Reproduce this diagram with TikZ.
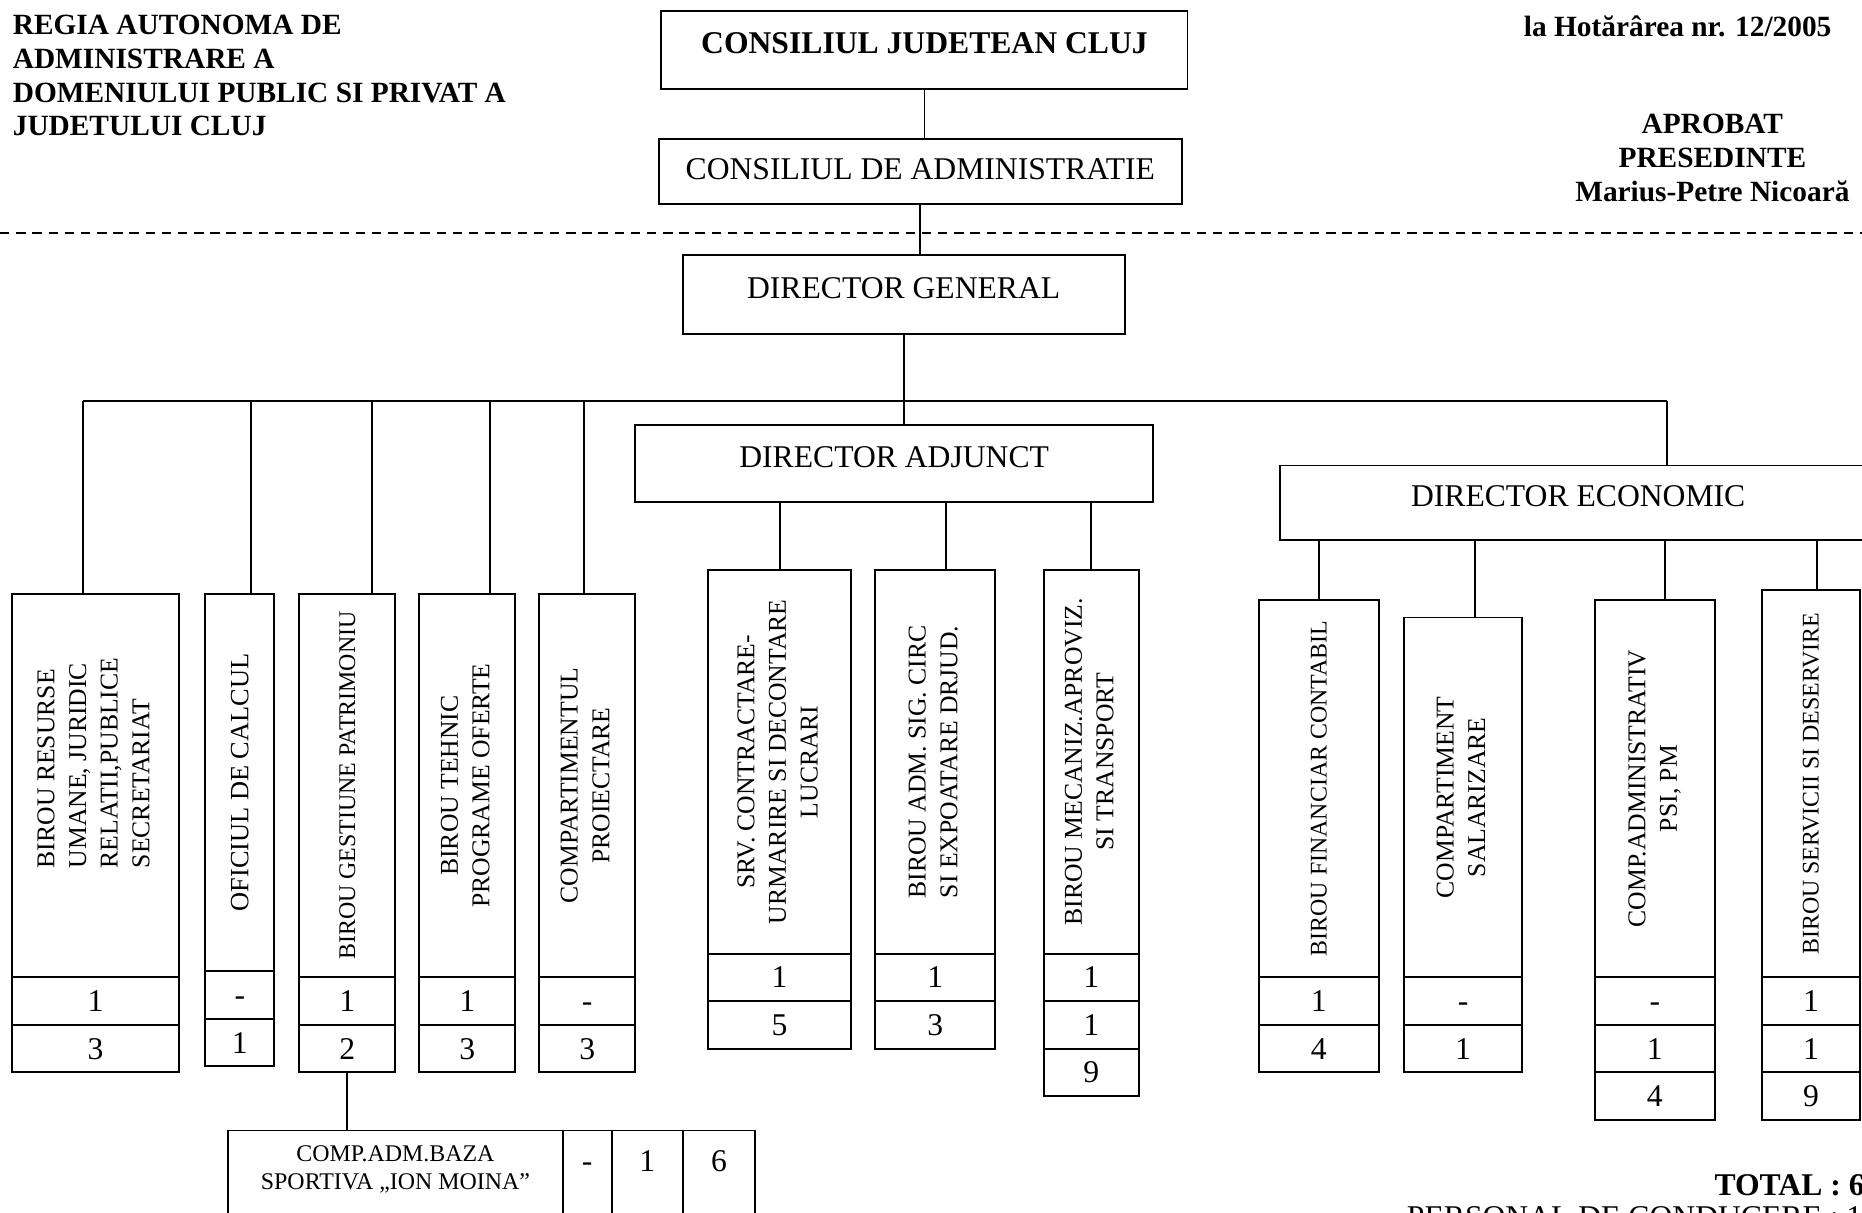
\documentclass[tikz,border=0pt]{standalone}
\usepackage{fontspec}
\setmainfont{Liberation Serif}
\usepackage{graphicx}
\usetikzlibrary{positioning}

\newcommand{\ux}{0.011875cm}

\begin{document}
\begin{tikzpicture}[x=\ux, y=-\ux, line width=0.55pt,
        hbox/.style={draw, inner sep=0pt, outer sep=0pt, anchor=north west, font=\fontsize{9}{11}\selectfont, text height=2pt, text depth=0pt},
        unit/.style={draw, inner sep=0pt, outer sep=0pt, anchor=north west, font=\fontsize{7.3}{9}\selectfont},
        cell/.style={draw, inner sep=0pt, outer sep=0pt, minimum height=40*\ux, font=\fontsize{9}{11}\selectfont, text height=6pt, text depth=0pt},
        topcell/.style={cell, minimum height=85*\ux, text height=0pt, text depth=5.2pt},
        titletext/.style={inner sep=0pt, font=\bfseries\fontsize{8.35}{9.6}\selectfont},
        divider/.style={dash pattern=on 2.7pt off 1.9pt}]
            \fill[white] (0,0) rectangle (1568,1021);
            \useasboundingbox (0,0) rectangle (1568,1021);
            \clip (0,0) rectangle (1568,1021);

            % header texts
            \node[titletext, anchor=north west, align=left] (regia) at (10,12) {REGIA AUTONOMA DE\\ADMINISTRARE A\\DOMENIULUI PUBLIC SI PRIVAT A\\JUDETULUI CLUJ};
            \node[titletext, anchor=east] (hot) at (1543,22) {la Hotărârea nr. 12/2005};
            \node[titletext, align=center] (aprobat) at (1442,133) {APROBAT\\PRESEDINTE\\Marius-Petre Nicoară};

            % top of the chart
            \node[hbox, font=\bfseries\fontsize{9}{11}\selectfont, minimum width=443*\ux, minimum height=66*\ux] (cjc) at (557,9) {CONSILIUL JUDETEAN CLUJ};
            \node[hbox, text height=4.6pt, minimum width=440*\ux, minimum height=55*\ux] (cda) at (555,117) {CONSILIUL DE ADMINISTRATIE};
            \node[hbox, minimum width=372*\ux, minimum height=66*\ux] (dg) at (575,215) {DIRECTOR GENERAL};
            \node[hbox, minimum width=436*\ux, minimum height=65*\ux] (da) at (535,358) {DIRECTOR ADJUNCT};
            \node[hbox, minimum width=502*\ux, minimum height=63*\ux] (de) at (1078,392) {DIRECTOR ECONOMIC};

            % under director general
            \node[unit, minimum width=141*\ux, minimum height=323*\ux] (bru) at (10,500) {\rotatebox{90}{\begin{tabular}{@{\hspace{0.45cm}}l@{}}BIROU RESURSE\\UMANE, JURIDIC\\RELATII,PUBLICE\\SECRETARIAT\end{tabular}}};
            \node[cell, minimum width=141*\ux, below=0pt of bru] (bru1) {1};
            \node[cell, minimum width=141*\ux, below=0pt of bru1] (bru2) {3};

            \node[unit, font=\fontsize{7.5}{9}\selectfont, minimum width=58*\ux, minimum height=318*\ux] (oc) at (173,500) {\rotatebox{90}{OFICIUL DE CALCUL}};
            \node[cell, minimum width=58*\ux, below=0pt of oc] (oc1) {-};
            \node[cell, minimum width=58*\ux, below=0pt of oc1] (oc2) {1};

            \node[unit, font=\fontsize{6.8}{9}\selectfont, minimum width=81*\ux, minimum height=323*\ux] (bgp) at (252,500) {\rotatebox{90}{BIROU GESTIUNE PATRIMONIU}};
            \node[cell, minimum width=81*\ux, below=0pt of bgp] (bgp1) {1};
            \node[cell, minimum width=81*\ux, below=0pt of bgp1] (bgp2) {2};

            \node[unit, minimum width=81*\ux, minimum height=323*\ux] (bt) at (353,500) {\rotatebox{90}{\begin{tabular}{@{}c@{}}BIROU TEHNIC\\PROGRAME OFERTE\end{tabular}}};
            \node[cell, minimum width=81*\ux, below=0pt of bt] (bt1) {1};
            \node[cell, minimum width=81*\ux, below=0pt of bt1] (bt2) {3};

            \node[unit, minimum width=81*\ux, minimum height=323*\ux] (cp) at (454,500) {\rotatebox{90}{\begin{tabular}{@{}c@{}}COMPARTIMENTUL\\PROIECTARE\end{tabular}}};
            \node[cell, minimum width=81*\ux, below=0pt of cp] (cp1) {-};
            \node[cell, minimum width=81*\ux, below=0pt of cp1] (cp2) {3};

            \node[unit, font=\fontsize{6.8}{8.2}\selectfont, minimum width=282*\ux, minimum height=85*\ux] (baza) at (192,952) {\begin{tabular}{@{}c@{}}COMP.ADM.BAZA\\SPORTIVA „ION MOINA”\\[6.4pt]\end{tabular}};
            \node[topcell, minimum width=41*\ux, right=0pt of baza] (baza1) {-};
            \node[topcell, minimum width=60*\ux, right=0pt of baza1] (baza2) {1};
            \node[topcell, minimum width=61*\ux, right=0pt of baza2] (baza3) {6};

            % under director adjunct
            \node[unit, minimum width=121*\ux, minimum height=323*\ux] (srv) at (596,480) {\rotatebox{90}{\begin{tabular}{@{}c@{}}SRV. CONTRACTARE-\\URMARIRE SI DECONTARE\\LUCRARI\end{tabular}}};
            \node[cell, minimum width=121*\ux, below=0pt of srv] (srv1) {1};
            \node[cell, minimum width=121*\ux, below=0pt of srv1] (srv2) {5};

            \node[unit, minimum width=101*\ux, minimum height=323*\ux] (bas) at (737,480) {\rotatebox{90}{\begin{tabular}{@{}c@{}}BIROU ADM. SIG. CIRC\\SI EXPOATARE DRJUD.\end{tabular}}};
            \node[cell, minimum width=101*\ux, below=0pt of bas] (bas1) {1};
            \node[cell, minimum width=101*\ux, below=0pt of bas1] (bas2) {3};

            \node[unit, minimum width=80*\ux, minimum height=323*\ux] (bma) at (879,480) {\rotatebox{90}{\begin{tabular}{@{}c@{}}BIROU MECANIZ.APROVIZ.\\SI TRANSPORT\end{tabular}}};
            \node[cell, minimum width=80*\ux, below=0pt of bma] (bma1) {1};
            \node[cell, minimum width=80*\ux, below=0pt of bma1] (bma2) {1};
            \node[cell, minimum width=80*\ux, below=0pt of bma2] (bma3) {9};

            % under director economic
            \node[unit, font=\fontsize{6.8}{9}\selectfont, minimum width=101*\ux, minimum height=318*\ux] (bfc) at (1060,505) {\rotatebox{90}{BIROU FINANCIAR CONTABIL}};
            \node[cell, minimum width=101*\ux, below=0pt of bfc] (bfc1) {1};
            \node[cell, minimum width=101*\ux, below=0pt of bfc1] (bfc2) {4};

            \node[unit, minimum width=100*\ux, minimum height=303*\ux] (cs) at (1182,520) {\rotatebox{90}{\begin{tabular}{@{}c@{}}COMPARTIMENT\\SALARIZARE\end{tabular}}};
            \node[cell, minimum width=100*\ux, below=0pt of cs] (cs1) {-};
            \node[cell, minimum width=100*\ux, below=0pt of cs1] (cs2) {1};

            \node[unit, minimum width=101*\ux, minimum height=318*\ux] (ca) at (1343,505) {\rotatebox{90}{\begin{tabular}{@{}c@{}}COMP.ADMINISTRATIV\\PSI, PM\end{tabular}}};
            \node[cell, minimum width=101*\ux, below=0pt of ca] (ca1) {-};
            \node[cell, minimum width=101*\ux, below=0pt of ca1] (ca2) {1};
            \node[cell, minimum width=101*\ux, below=0pt of ca2] (ca3) {4};

            \node[unit, font=\fontsize{6.8}{9}\selectfont, minimum width=82*\ux, minimum height=326*\ux] (bss) at (1484,497) {\rotatebox{90}{BIROU SERVICII SI DESERVIRE}};
            \node[cell, minimum width=82*\ux, below=0pt of bss] (bss1) {1};
            \node[cell, minimum width=82*\ux, below=0pt of bss1] (bss2) {1};
            \node[cell, minimum width=82*\ux, below=0pt of bss2] (bss3) {9};

            % totals
            \node[anchor=west, inner sep=0pt, font=\bfseries\fontsize{9}{11}\selectfont] (total) at (1443,998) {TOTAL : 6};
            \node[anchor=west, inner sep=0pt, font=\fontsize{9}{11}\selectfont] (personal) at (1184,1025) {PERSONAL DE CONDUCERE : 1};

            % points where the lines branch off
            \coordinate (sepL) at (0,196);
            \coordinate (sepR) at (1568,196);
            \coordinate (busL) at (70,338);
            \coordinate (busR) at (1404,338);
            \coordinate (jOC) at (211,338);
            \coordinate (jBGP) at (313,338);
            \coordinate (jBT) at (413,338);
            \coordinate (jCP) at (492,338);
            \coordinate (jBAS) at (797,423);
            \coordinate (jCS) at (1242,455);
            \coordinate (jCA) at (1402,455);
            \coordinate (jBSS) at (1530,455);

            \draw[divider] (sepL) -- (sepR);
            \draw (cjc.south) -- (cjc.south |- cda.north);
            \draw (cda.south) -- (cda.south |- dg.north);
            \draw (dg.south) -- (dg.south |- da.north);
            \draw (busL) -- (busR);
            \draw (busL) -- (busL |- bru.north);
            \draw (jOC) -- (jOC |- oc.north);
            \draw (jBGP) -- (jBGP |- bgp.north);
            \draw (jBT) -- (jBT |- bt.north);
            \draw (jCP) -- (jCP |- cp.north);
            \draw (busR) -- (busR |- de.north);
            \draw (bgp2.south) -- (bgp2.south |- baza.north);
            \draw (srv.north |- da.south) -- (srv.north);
            \draw (jBAS) -- (jBAS |- bas.north);
            \draw (bma.north |- da.south) -- (bma.north);
            \draw (bfc.north |- de.south) -- (bfc.north);
            \draw (jCS) -- (jCS |- cs.north);
            \draw (jCA) -- (jCA |- ca.north);
            \draw (jBSS) -- (jBSS |- bss.north);
        \end{tikzpicture}
\end{document}
